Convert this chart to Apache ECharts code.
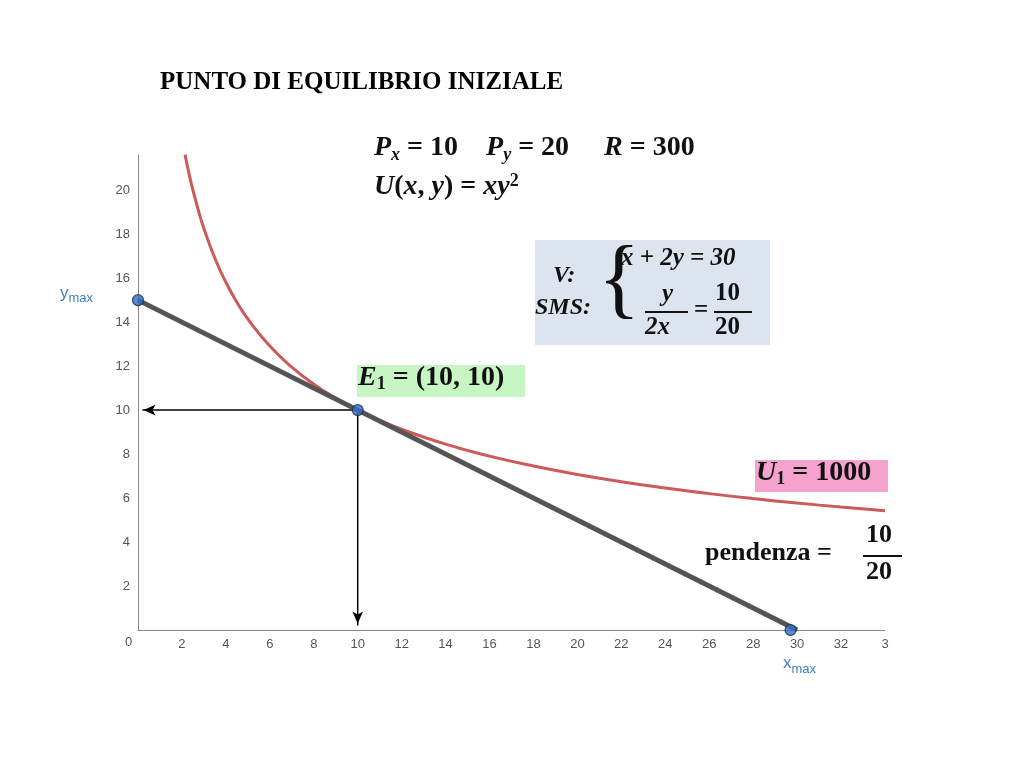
<!DOCTYPE html>
<html><head><meta charset="utf-8">
<script src="https://cdn.jsdelivr.net/npm/echarts@6/dist/echarts.min.js"></script>
<style>html,body{margin:0;background:#fff}#c{width:1024px;height:765px}</style>
</head><body><div id="c"></div>
<script>
const xTicks = [0,2,4,6,8,10,12,14,16,18,20,22,24,26,28,30,32,34];
const budgetLine = [[0,15],[30,0]];
const utilityLevel = 1000;
const curveX = [2.14,2.3,2.5,2.8,3,3.5,4,4.5,5,6,7,8,9,10,11,12,14,16,18,20,22,24,26,28,30,32,34];
const points = [[0,15],[10,10],[29.7,0]];
const arrowH = [[10,10],[0.2,10]];
const arrowV = [[10,10],[10,0.2]];
const curve = curveX.map(x => [x, Math.sqrt(utilityLevel/x)]);
const serif = 'Liberation Serif';
const B = 'bold 28px '+serif, I = 'italic bold 28px '+serif, S = 'italic bold 18px '+serif, SN = 'bold 18px '+serif;
const chart = echarts.init(document.getElementById('c'));
chart.setOption({
  animation:false,
  grid:{left:138,right:139,top:155,bottom:135},
  xAxis:{type:'value',min:0,max:34,interval:2,splitLine:{show:false},
    axisLine:{lineStyle:{color:'#888'}},axisTick:{show:false},
    axisLabel:{color:'#555',fontSize:13,fontFamily:'Liberation Sans',formatter:v=>v===0?'':(v===34?'3':String(v))}},
  yAxis:{type:'value',min:0,max:21.6,interval:2,splitLine:{show:false},
    axisLine:{show:true,lineStyle:{color:'#888'}},axisTick:{show:false},
    axisLabel:{color:'#555',fontSize:13,fontFamily:'Liberation Sans',formatter:v=>v===0?'':String(v),showMaxLabel:false}},
  series:[
    {type:'line',data:curve,smooth:true,showSymbol:false,lineStyle:{color:'#cc5a5a',width:3},z:2},
    {type:'line',data:budgetLine,showSymbol:false,lineStyle:{color:'#555',width:5},z:3},
    {type:'line',data:arrowH,showSymbol:false,symbol:'none',lineStyle:{color:'#000',width:1.5},z:1,
      markPoint:{symbol:'arrow',symbolSize:[8,12],symbolRotate:90,data:[{coord:[0.25,10]}],itemStyle:{color:'#000'},label:{show:false}}},
    {type:'line',data:arrowV,showSymbol:false,symbol:'none',lineStyle:{color:'#000',width:1.5},z:1,
      markPoint:{symbol:'arrow',symbolSize:[8,12],symbolRotate:180,data:[{coord:[10,0.3]}],itemStyle:{color:'#000'},label:{show:false}}},
    {type:'scatter',data:points,symbolSize:11,itemStyle:{color:'#2f6fc3',borderColor:'#1a2a4a',borderWidth:1.2},z:5}
  ],
  graphic:[
    {type:'text',left:125,top:636,style:{text:'0',fill:'#555',font:'13px Liberation Sans'}},
    {type:'text',left:160,top:70,style:{text:'PUNTO DI EQUILIBRIO INIZIALE',fill:'#000',font:'bold 25px '+serif}},
    {type:'text',left:60,top:285,style:{text:'{a|y}{b|max}',rich:{a:{fill:'#3a7fc1',fontSize:17,fontFamily:'Liberation Sans'},b:{fill:'#3a7fc1',fontSize:13,fontFamily:'Liberation Sans',padding:[10,0,0,0]}}}},
    {type:'text',left:783,top:655,style:{text:'{a|x}{b|max}',rich:{a:{fill:'#3a7fc1',fontSize:17,fontFamily:'Liberation Sans'},b:{fill:'#3a7fc1',fontSize:13,fontFamily:'Liberation Sans',padding:[12,0,0,0]}}}},
    {type:'text',left:374,top:134,style:{text:'{i|P}{s|x}{n| = 10    }{i|P}{s|y}{n| = 20     }{i|R}{n| = 300}',
      rich:{i:{font:I,fill:'#111'},n:{font:B,fill:'#111'},s:{font:S,fill:'#111',padding:[14,0,0,0]}}}},
    {type:'text',left:374,top:172,style:{text:'{i|U}{n|(}{i|x}{n|, }{i|y}{n|) = }{i|xy}{s|2}',
      rich:{i:{font:I,fill:'#111'},n:{font:B,fill:'#111'},s:{font:SN,fill:'#111',padding:[0,0,12,0]}}}},
    {type:'rect',shape:{x:535,y:240,width:235,height:105},style:{fill:'#dbe4ef'}},
    {type:'text',left:553,top:264,style:{text:'V:',font:'italic bold 24px '+serif,fill:'#111'}},
    {type:'text',left:535,top:296,style:{text:'SMS:',font:'italic bold 24px '+serif,fill:'#111'}},
    {type:'text',left:598,top:240,style:{text:'{',font:'88px Liberation Serif',fill:'#111'}},
    {type:'text',left:621,top:246,style:{text:'x + 2y = 30',font:'italic bold 25px '+serif,fill:'#111'}},
    {type:'text',left:662,top:282,style:{text:'y',font:'italic bold 25px '+serif,fill:'#111'}},
    {type:'line',shape:{x1:645,y1:312,x2:688,y2:312},style:{stroke:'#111',lineWidth:2}},
    {type:'text',left:645,top:315,style:{text:'2x',font:'italic bold 25px '+serif,fill:'#111'}},
    {type:'text',left:694,top:298,style:{text:'=',font:'bold 25px '+serif,fill:'#111'}},
    {type:'line',shape:{x1:714,y1:312,x2:752,y2:312},style:{stroke:'#111',lineWidth:2}},
    {type:'text',left:715,top:281,style:{text:'10',font:'bold 25px '+serif,fill:'#111'}},
    {type:'text',left:715,top:315,style:{text:'20',font:'bold 25px '+serif,fill:'#111'}},
    {type:'rect',shape:{x:357,y:365,width:168,height:32},style:{fill:'#c8f5c4'}},
    {type:'text',left:358,top:364,style:{text:'{i|E}{s|1}{n| = (10, 10)}',
      rich:{i:{font:I,fill:'#111'},n:{font:B,fill:'#111'},s:{font:SN,fill:'#111',padding:[12,0,0,0]}}}},
    {type:'rect',shape:{x:755,y:460,width:133,height:32},style:{fill:'#f6a2cf'}},
    {type:'text',left:756,top:459,style:{text:'{i|U}{s|1}{n| = 1000}',
      rich:{i:{font:I,fill:'#111'},n:{font:B,fill:'#111'},s:{font:SN,fill:'#111',padding:[12,0,0,0]}}}},
    {type:'text',left:705,top:540,style:{text:'pendenza =',font:'bold 26px '+serif,fill:'#111'}},
    {type:'line',shape:{x1:863,y1:556,x2:902,y2:556},style:{stroke:'#111',lineWidth:2}},
    {type:'text',left:866,top:522,style:{text:'10',font:'bold 26px '+serif,fill:'#111'}},
    {type:'text',left:866,top:559,style:{text:'20',font:'bold 26px '+serif,fill:'#111'}}
  ]
});
</script></body></html>
